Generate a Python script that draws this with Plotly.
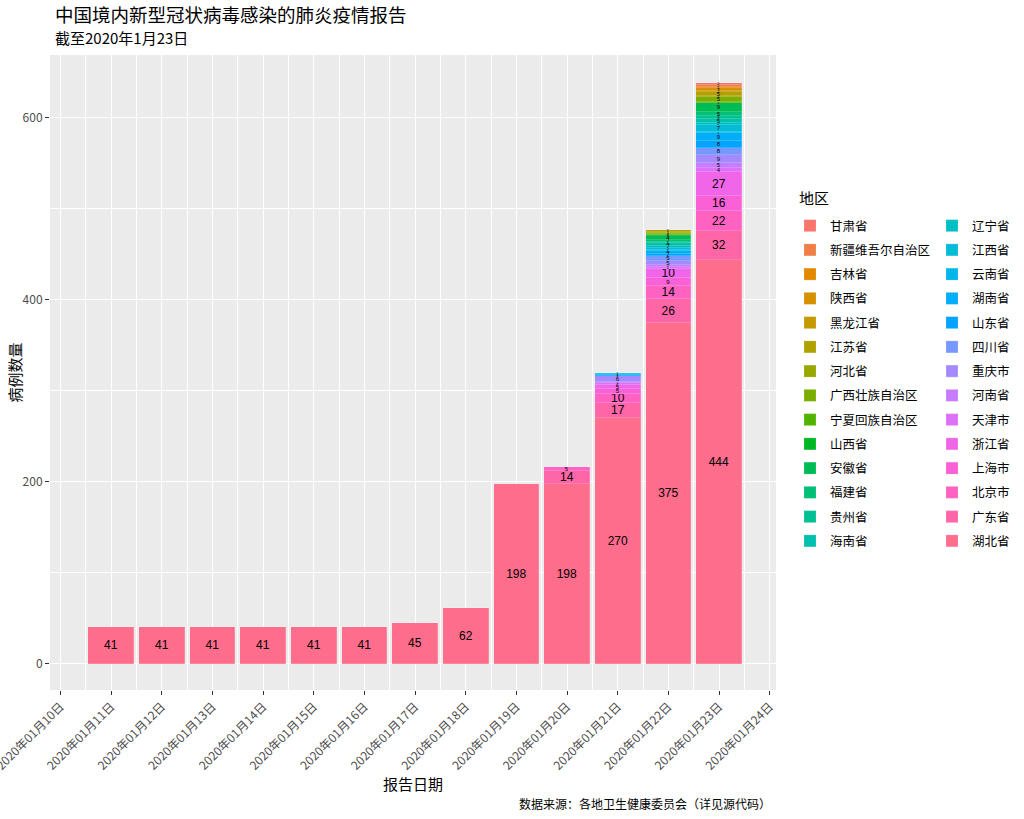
import math
import plotly.graph_objects as go

# ---------------- data ----------------
dates = ["2020-01-11", "2020-01-12", "2020-01-13", "2020-01-14", "2020-01-15",
         "2020-01-16", "2020-01-17", "2020-01-18", "2020-01-19", "2020-01-20",
         "2020-01-21", "2020-01-22", "2020-01-23"]

# factor levels (legend order); the last level sits at the bottom of each stack
regions = ["甘肃省", "新疆维吾尔自治区", "吉林省", "陕西省", "黑龙江省", "江苏省", "河北省",
           "广西壮族自治区", "宁夏回族自治区", "山西省", "安徽省", "福建省", "贵州省", "海南省",
           "辽宁省", "江西省", "云南省", "湖南省", "山东省", "四川省", "重庆市", "河南省",
           "天津市", "浙江省", "上海市", "北京市", "广东省", "湖北省"]

hubei     = [41, 41, 41, 41, 41, 41, 45, 62, 198, 198, 270, 375, 444]
guangdong = [0, 0, 0, 0, 0, 0, 0, 0, 0, 14, 17, 26, 32]
beijing   = [0, 0, 0, 0, 0, 0, 0, 0, 0, 5, 10, 14, 22]
shanghai  = [0, 0, 0, 0, 0, 0, 0, 0, 0, 0, 5, 9, 16]
zhejiang  = [0, 0, 0, 0, 0, 0, 0, 0, 0, 0, 5, 10, 27]
tianjin   = [0, 0, 0, 0, 0, 0, 0, 0, 0, 0, 2, 2, 4]
henan     = [0, 0, 0, 0, 0, 0, 0, 0, 0, 0, 1, 2, 5]
chongqing = [0, 0, 0, 0, 0, 0, 0, 0, 0, 0, 6, 5, 9]
sichuan   = [0, 0, 0, 0, 0, 0, 0, 0, 0, 0, 1, 5, 8]
shandong  = [0, 0, 0, 0, 0, 0, 0, 0, 0, 0, 1, 2, 8]
hunan     = [0, 0, 0, 0, 0, 0, 0, 0, 0, 0, 1, 4, 9]
yunnan    = [0, 0, 0, 0, 0, 0, 0, 0, 0, 0, 1, 1, 1]
jiangxi   = [0, 0, 0, 0, 0, 0, 0, 0, 0, 0, 0, 2, 7]
liaoning  = [0, 0, 0, 0, 0, 0, 0, 0, 0, 0, 0, 2, 2]
hainan    = [0, 0, 0, 0, 0, 0, 0, 0, 0, 0, 0, 4, 5]
guizhou   = [0, 0, 0, 0, 0, 0, 0, 0, 0, 0, 0, 1, 3]
fujian    = [0, 0, 0, 0, 0, 0, 0, 0, 0, 0, 0, 2, 5]
anhui     = [0, 0, 0, 0, 0, 0, 0, 0, 0, 0, 0, 4, 9]
shanxi    = [0, 0, 0, 0, 0, 0, 0, 0, 0, 0, 0, 1, 1]
ningxia   = [0, 0, 0, 0, 0, 0, 0, 0, 0, 0, 0, 1, 1]
guangxi   = [0, 0, 0, 0, 0, 0, 0, 0, 0, 0, 0, 2, 5]
hebei     = [0, 0, 0, 0, 0, 0, 0, 0, 0, 0, 0, 1, 1]
jiangsu   = [0, 0, 0, 0, 0, 0, 0, 0, 0, 0, 0, 2, 5]
heilongjiang = [0, 0, 0, 0, 0, 0, 0, 0, 0, 0, 0, 0, 1]
shaanxi   = [0, 0, 0, 0, 0, 0, 0, 0, 0, 0, 0, 0, 3]
jilin     = [0, 0, 0, 0, 0, 0, 0, 0, 0, 0, 0, 0, 1]
xinjiang  = [0, 0, 0, 0, 0, 0, 0, 0, 0, 0, 0, 0, 2]
gansu     = [0, 0, 0, 0, 0, 0, 0, 0, 0, 0, 0, 0, 2]

series = {
    "甘肃省": gansu, "新疆维吾尔自治区": xinjiang, "吉林省": jilin, "陕西省": shaanxi,
    "黑龙江省": heilongjiang, "江苏省": jiangsu, "河北省": hebei, "广西壮族自治区": guangxi,
    "宁夏回族自治区": ningxia, "山西省": shanxi, "安徽省": anhui, "福建省": fujian,
    "贵州省": guizhou, "海南省": hainan, "辽宁省": liaoning, "江西省": jiangxi,
    "云南省": yunnan, "湖南省": hunan, "山东省": shandong, "四川省": sichuan,
    "重庆市": chongqing, "河南省": henan, "天津市": tianjin, "浙江省": zhejiang,
    "上海市": shanghai, "北京市": beijing, "广东省": guangdong, "湖北省": hubei,
}

title_text = "中国境内新型冠状病毒感染的肺炎疫情报告"
subtitle_text = "截至2020年1月23日"
x_title = "报告日期"
y_title = "病例数量"
legend_title = "地区"
caption = "数据来源：各地卫生健康委员会（详见源代码）"


# ---------------- ggplot2 hue palette ----------------
def hcl_hex(h, c=100.0, l=65.0):
    Xn, Yn, Zn = 95.047, 100.0, 108.883
    hr = math.radians(h)
    u, v = c * math.cos(hr), c * math.sin(hr)
    Y = Yn * ((l + 16) / 116) ** 3
    den = Xn + 15 * Yn + 3 * Zn
    un, vn = 4 * Xn / den, 9 * Yn / den
    up, vp = u / (13 * l) + un, v / (13 * l) + vn
    X = Y * 9 * up / (4 * vp)
    Z = Y * (12 - 3 * up - 20 * vp) / (4 * vp)
    X, Y, Z = X / 100, Y / 100, Z / 100
    rgb = [3.240479 * X - 1.537150 * Y - 0.498535 * Z,
           -0.969256 * X + 1.875992 * Y + 0.041556 * Z,
           0.055648 * X - 0.204043 * Y + 1.057311 * Z]
    out = []
    for ch in rgb:
        ch = 12.92 * ch if ch <= 0.0031308 else 1.055 * ch ** (1 / 2.4) - 0.055
        out.append(int(round(min(max(ch, 0), 1) * 255)))
    return "#%02X%02X%02X" % tuple(out)


n = len(regions)
colors = {r: hcl_hex(15 + i * 360.0 / n) for i, r in enumerate(regions)}

FONT = "Noto Sans CJK SC"
DAY_MS = 86400000


def label_size(v):
    if v >= 10:
        return 12
    if v >= 4:
        return 6
    return 4


fig = go.Figure()
# bottom of the stack first
for rank, region in reversed(list(enumerate(regions))):
    vals = series[region]
    xs = [d for d, v in zip(dates, vals) if v > 0]
    ys = [v for v in vals if v > 0]
    if not xs:
        xs, ys = [dates[-1]], [0]
    fig.add_trace(go.Bar(
        x=xs, y=ys, name=region,
        text=[str(v) if v > 0 else "" for v in ys],
        textposition="inside", insidetextanchor="middle", textangle=0,
        constraintext="none",
        textfont=dict(family="Liberation Sans", size=[label_size(v) for v in ys], color="black"),
        marker=dict(color=colors[region], line=dict(width=0.4, color="rgba(255,255,255,0.45)")),
        width=0.9 * DAY_MS,
        legend="legend" if rank < 14 else "legend2",
        legendgroup=region, legendrank=rank,
        hovertemplate="%{x|%Y-%m-%d}<br>" + region + ": %{y}<extra></extra>",
    ))

# ---------------- layout ----------------
L, R, T, B = 50, 248, 55, 129
W, H = 1024, 819
pw, ph = W - L - R, H - T - B


def px_x(px):
    return (px - L) / pw


def px_y(py):
    return (H - B - py) / ph


tick_font = dict(family=FONT, size=12, color="#4D4D4D")
leg_common = dict(
    font=dict(family=FONT, size=12.5, color="black"),
    bgcolor="rgba(0,0,0,0)", traceorder="grouped", tracegroupgap=5,
    orientation="v", xanchor="left", yanchor="top", itemclick=False,
)

fig.update_layout(
    width=W, height=H,
    margin=dict(l=L, r=R, t=T, b=B, autoexpand=False),
    paper_bgcolor="white", plot_bgcolor="#EBEBEB",
    barmode="stack", bargap=0,
    font=dict(family=FONT, color="black"),
    legend=dict(**leg_common, x=px_x(790), y=px_y(211)),
    legend2=dict(**leg_common, x=px_x(932), y=px_y(211)),
    xaxis=dict(
        type="date", automargin=False,
        range=["2020-01-09 19:00", "2020-01-24 03:00"],
        tick0="2020-01-10", dtick=DAY_MS, tickformat="%Y年%m月%d日",
        tickangle=-45, tickfont=tick_font, ticklabeloverflow="allow",
        ticks="outside", ticklen=4, tickwidth=1, tickcolor="#333333",
        showgrid=True, gridcolor="white", gridwidth=1.1,
        minor=dict(dtick=DAY_MS / 2, tick0="2020-01-10 12:00", showgrid=True,
                   gridcolor="white", gridwidth=0.5, ticks=""),
        zeroline=False, showline=False,
    ),
    yaxis=dict(
        automargin=False,
        range=[-28.6, 669.2],
        tickvals=[0, 200, 400, 600], tickfont=tick_font,
        ticks="outside", ticklen=4, tickwidth=1, tickcolor="#333333",
        showgrid=True, gridcolor="white", gridwidth=1.1,
        minor=dict(tickvals=[100, 300, 500], showgrid=True, gridcolor="white",
                   gridwidth=0.5, ticks=""),
        zeroline=False, showline=False,
    ),
    annotations=[
        dict(text=title_text, xref="paper", yref="paper", x=px_x(53), y=px_y(14),
             xanchor="left", yanchor="middle", showarrow=False,
             font=dict(family=FONT, size=18.5, color="black")),
        dict(text=subtitle_text, xref="paper", yref="paper", x=px_x(53), y=px_y(38),
             xanchor="left", yanchor="middle", showarrow=False,
             font=dict(family=FONT, size=15, color="black")),
        dict(text=x_title, xref="paper", yref="paper", x=0.5, y=px_y(783),
             xanchor="center", yanchor="middle", showarrow=False,
             font=dict(family=FONT, size=15, color="black")),
        dict(text=y_title, xref="paper", yref="paper", x=px_x(14), y=0.5,
             xanchor="center", yanchor="middle", showarrow=False, textangle=-90,
             font=dict(family=FONT, size=15, color="black")),
        dict(text=caption, xref="paper", yref="paper", x=px_x(773), y=px_y(803),
             xanchor="right", yanchor="middle", showarrow=False,
             font=dict(family=FONT, size=12, color="black")),
        dict(text=legend_title, xref="paper", yref="paper", x=px_x(797), y=px_y(198),
             xanchor="left", yanchor="middle", showarrow=False,
             font=dict(family=FONT, size=15, color="black")),
    ],
)

fig.write_html("out.html")
